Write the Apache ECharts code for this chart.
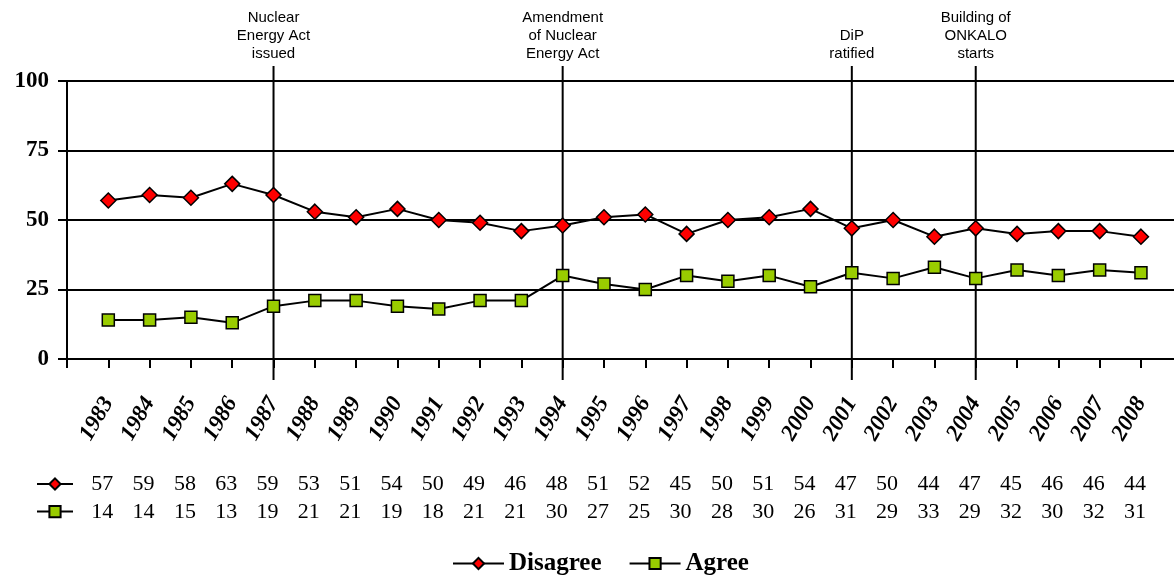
<!DOCTYPE html>
<html>
<head>
<meta charset="utf-8">
<style>
  html, body { margin: 0; padding: 0; background: #fff; }
  #chart { width: 1174px; height: 576px; }
</style>
<script src="https://cdn.jsdelivr.net/npm/echarts@6/dist/echarts.min.js"></script>
</head>
<body>
<div id="chart"></div>
<script>
// Survey years and the two answer series (per cent)
const years = [1983, 1984, 1985, 1986, 1987, 1988, 1989, 1990, 1991, 1992, 1993, 1994, 1995,
               1996, 1997, 1998, 1999, 2000, 2001, 2002, 2003, 2004, 2005, 2006, 2007, 2008];
const disagree = [57, 59, 58, 63, 59, 53, 51, 54, 50, 49, 46, 48, 51, 52, 45, 50, 51, 54, 47, 50, 44, 47, 45, 46, 46, 44];
const agree = [14, 14, 15, 13, 19, 21, 21, 19, 18, 21, 21, 30, 27, 25, 30, 28, 30, 26, 31, 29, 33, 29, 32, 30, 32, 31];
const yTicks = [0, 25, 50, 75, 100];

// Milestones marked with vertical lines
const eventYears = [1987, 1994, 2001, 2004];
const eventNames = ['Nuclear\nEnergy Act\nissued', 'Amendment\nof Nuclear\nEnergy Act', 'DiP\nratified', 'Building of\nONKALO\nstarts'];

const serif = '"Liberation Serif", "Times New Roman", serif';
const sans = '"Liberation Sans", Arial, sans-serif';
const RED = '#FF0000';
const GREEN = '#99CC00';

const xMin = years[0] - 1;
const xMax = years[years.length - 1] + 0.8;
const tickYears = [xMin].concat(years);

function valueAt(arr, v) {
  const i = years.indexOf(v);
  return i >= 0 ? String(arr[i]) : '';
}

// Data-table row under the plot, laid out on its own axis
function tableAxis(arr, offset) {
  return {
    type: 'value', gridIndex: 0, position: 'bottom', offset: offset,
    min: xMin, max: xMax, interval: 1,
    axisLine: { show: false }, axisTick: { show: false }, splitLine: { show: false },
    axisLabel: {
      margin: 0, showMinLabel: true, showMaxLabel: true,
      customValues: years,
      padding: [0, 12, 0, 0],
      fontFamily: serif, fontSize: 22, color: '#000',
      formatter: v => valueAt(arr, v)
    }
  };
}

const chart = echarts.init(document.getElementById('chart'), null, { renderer: 'canvas' });

chart.setOption({
  animation: false,
  backgroundColor: '#fff',
  grid: { left: 67, right: 0, top: 81, bottom: 217, containLabel: false },
  legend: [
    {
      data: ['Disagree', 'Agree'],
      left: 447, top: 546,
      itemWidth: 51, itemHeight: 14, itemGap: 27,
      selectedMode: false,
      textStyle: { fontFamily: serif, fontWeight: 'bold', fontSize: 25, color: '#000' }
    },
    {
      data: ['Disagree', 'Agree'],
      orient: 'vertical',
      left: 31, top: 472,
      itemWidth: 36, itemHeight: 14, itemGap: 14,
      selectedMode: false,
      formatter: () => ''
    }
  ],
  xAxis: [
    {
      type: 'value', min: xMin, max: xMax, interval: 1,
      axisLine: { show: true, onZero: false, lineStyle: { color: '#000', width: 2 } },
      axisTick: { show: true, length: 9, customValues: tickYears, lineStyle: { color: '#000', width: 2 } },
      splitLine: { show: false },
      axisLabel: {
        rotate: 60, margin: 40, customValues: years,
        fontFamily: serif, fontWeight: 'bold', fontStyle: 'italic', fontSize: 23, color: '#000',
        formatter: v => (years.indexOf(v) >= 0 ? String(v) : '')
      }
    },
    tableAxis(disagree, 114),
    tableAxis(agree, 142)
  ],
  yAxis: {
    type: 'value', min: yTicks[0], max: yTicks[yTicks.length - 1], interval: 25,
    axisLine: { show: true, lineStyle: { color: '#000', width: 2 } },
    axisTick: { show: true, length: 9, lineStyle: { color: '#000', width: 2 } },
    splitLine: { show: true, lineStyle: { color: '#000', width: 2 } },
    axisLabel: {
      margin: 18, fontFamily: serif, fontWeight: 'bold', fontSize: 23, color: '#000',
      formatter: v => (yTicks.indexOf(v) >= 0 ? String(v) : '')
    }
  },
  series: [
    {
      type: 'custom',
      name: 'events',
      clip: false,
      silent: true,
      z: 1,
      data: eventYears.map(y => [y, 0]),
      renderItem: function (params, api) {
        const top = api.coord([api.value(0), 100]);
        const bottom = api.coord([api.value(0), 0]);
        return {
          type: 'group',
          children: [
            {
              type: 'line',
              shape: { x1: top[0], y1: top[1] - 15, x2: top[0], y2: bottom[1] + 21 },
              style: { stroke: '#000', lineWidth: 2 }
            },
            {
              type: 'text',
              x: top[0], y: top[1] - 18,
              style: {
                text: eventNames[params.dataIndex],
                align: 'center', verticalAlign: 'bottom',
                fontFamily: sans, fontSize: 15, lineHeight: 18, fill: '#000'
              }
            }
          ]
        };
      }
    },
    {
      type: 'line',
      name: 'Disagree',
      z: 3,
      data: years.map((y, i) => [y, disagree[i]]),
      symbol: 'diamond', symbolSize: 15,
      lineStyle: { color: '#000', width: 2 },
      itemStyle: { color: RED, borderColor: '#000', borderWidth: 1.5 }
    },
    {
      type: 'line',
      name: 'Agree',
      z: 3,
      data: years.map((y, i) => [y, agree[i]]),
      symbol: 'rect', symbolSize: 12,
      lineStyle: { color: '#000', width: 2 },
      itemStyle: { color: GREEN, borderColor: '#000', borderWidth: 1.5 }
    }
  ]
});
</script>
</body>
</html>
